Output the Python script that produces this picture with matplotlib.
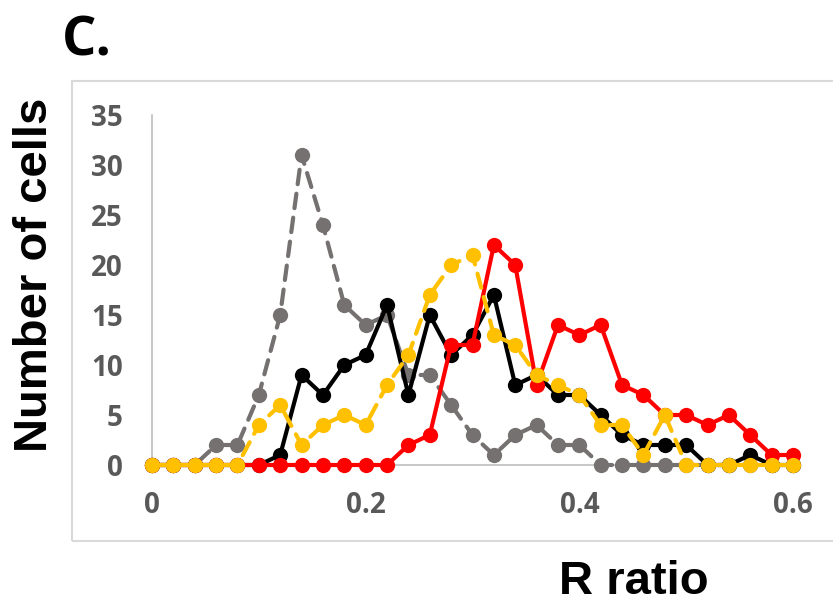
import matplotlib
matplotlib.use("Agg")
import matplotlib.pyplot as plt
from matplotlib.patches import Rectangle

# R ratio bins
r_ratio = [0.00, 0.02, 0.04, 0.06, 0.08, 0.10, 0.12, 0.14, 0.16, 0.18,
           0.20, 0.22, 0.24, 0.26, 0.28, 0.30, 0.32, 0.34, 0.36, 0.38,
           0.40, 0.42, 0.44, 0.46, 0.48, 0.50, 0.52, 0.54, 0.56, 0.58, 0.60]

# cell counts per bin for each condition
counts_gray = [0, 0, 0, 2, 2, 7, 15, 31, 24, 16,
               14, 15, 9, 9, 6, 3, 1, 3, 4, 2,
               2, 0, 0, 0, 0, 0, 0, 0, 0, 0, 0]
counts_black = [0, 0, 0, 0, 0, 0, 1, 9, 7, 10,
                11, 16, 7, 15, 11, 13, 17, 8, 9, 7,
                7, 5, 3, 2, 2, 2, 0, 0, 1, 0, 0]
counts_red = [0, 0, 0, 0, 0, 0, 0, 0, 0, 0,
              0, 0, 2, 3, 12, 12, 22, 20, 8, 14,
              13, 14, 8, 7, 5, 5, 4, 5, 3, 1, 1]
counts_yellow = [0, 0, 0, 0, 0, 4, 6, 2, 4, 5,
                 4, 8, 11, 17, 20, 21, 13, 12, 9, 8,
                 7, 4, 4, 1, 5, 0, 0, 0, 0, 0, 0]

y_ticks = [0, 5, 10, 15, 20, 25, 30, 35]
x_ticks = [0, 0.2, 0.4, 0.6]
x_tick_labels = ["0", "0.2", "0.4", "0.6"]

W, H = 833, 606
fig = plt.figure(figsize=(W / 100, H / 100), dpi=100)

# chart area frame
fig.patches.append(Rectangle((72 / W, 1 - 541 / H), (W + 5 - 72) / W, (541 - 81) / H,
                             transform=fig.transFigure, fill=False,
                             edgecolor="#d9d9d9", linewidth=1.5))

ax = fig.add_axes([152 / W, 1 - 465 / H, (793 - 152) / W, (465 - 115) / H])

series = [
    (counts_gray, "#767171", (3.5, 2.3)),
    (counts_black, "#000000", None),
    (counts_red, "#ff0000", None),
    (counts_yellow, "#ffc000", (3.5, 2.3)),
]
for vals, col, dash in series:
    line, = ax.plot(r_ratio, vals, color=col, lw=3.0, marker="o", ms=11,
                    markeredgewidth=0, clip_on=False, solid_capstyle="round")
    if dash is not None:
        line.set_dashes(dash)
        line.set_dash_capstyle("round")

ax.set_xlim(0, 0.6)
ax.set_ylim(0, 35)
ax.set_xticks(x_ticks)
ax.set_xticklabels(x_tick_labels)
ax.set_yticks(y_ticks)

for s in ["top", "right"]:
    ax.spines[s].set_visible(False)
for s in ["left", "bottom"]:
    ax.spines[s].set_color("#bfbfbf")
    ax.spines[s].set_linewidth(1.2)
    ax.spines[s].set_zorder(0)

ax.tick_params(length=0, labelsize=20, labelcolor="#595959")
ax.tick_params(axis="x", pad=19)
ax.tick_params(axis="y", pad=21)
for lab in ax.get_xticklabels() + ax.get_yticklabels():
    lab.set_fontfamily("Open Sans")
    lab.set_fontweight("bold")

fig.text(35 / W, 1 - 275 / H, "Number of cells", rotation=90, ha="center", va="center",
         fontsize=34, fontweight="bold", family="Liberation Sans")
fig.text(634 / W, 1 - 582 / H, "R ratio", ha="center", va="center",
         fontsize=34, fontweight="bold", family="Liberation Sans")
fig.text(62 / W, 1 - 42 / H, "C.", ha="left", va="center",
         fontsize=39, fontweight="bold", family="Open Sans")

fig.savefig("out.png", dpi=100)
